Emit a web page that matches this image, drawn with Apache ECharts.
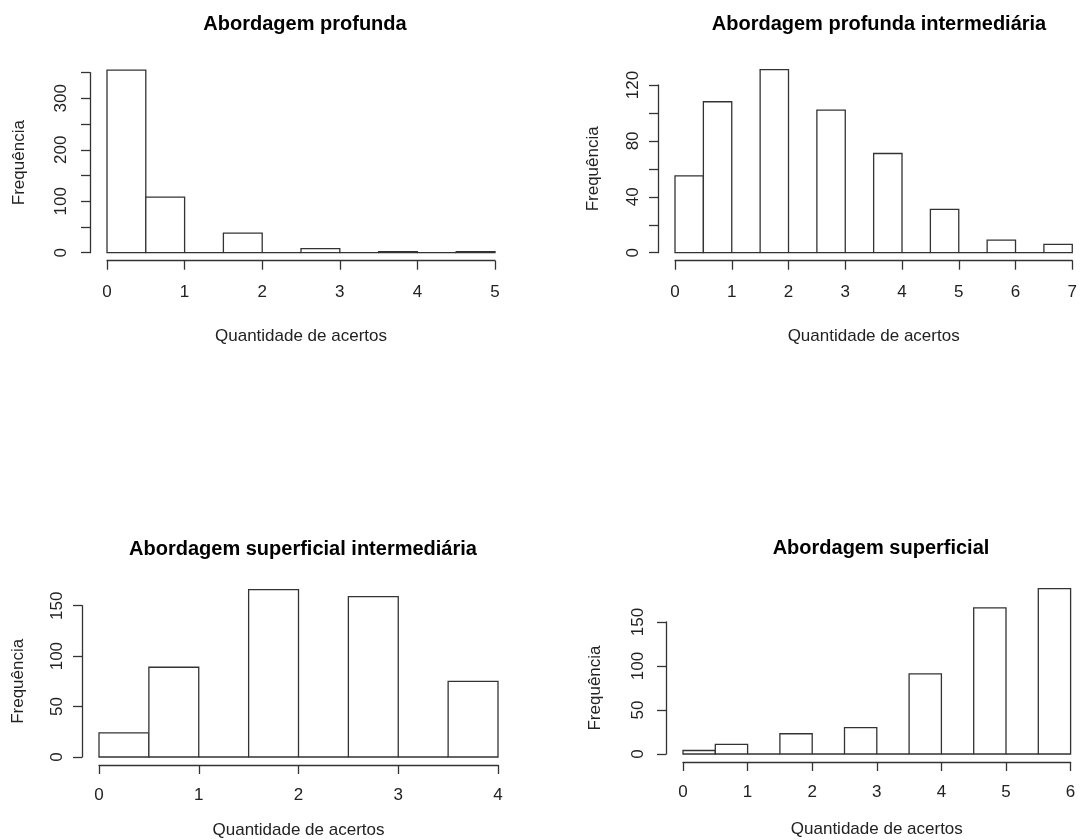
<!DOCTYPE html>
<html>
<head>
<meta charset="utf-8">
<title>Histogramas - Quantidade de acertos</title>
<script src="https://cdn.jsdelivr.net/npm/echarts@6/dist/echarts.min.js"></script>
<style>
    html, body { margin: 0; padding: 0; background: #fff; }
    #hist_grid { width: 1080px; height: 840px; }
</style>
</head>
<body>
<div id="hist_grid"></div>
<script>

// Chart data
// ------------------------------

var titles = [
    'Abordagem profunda',
    'Abordagem profunda intermediária',
    'Abordagem superficial intermediária',
    'Abordagem superficial'
];

// Bin edges (left, right) and frequencies for each histogram
var profundaLeft = [0, 0.5, 1, 1.5, 2, 2.5, 3, 3.5, 4, 4.5];
var profundaRight = [0.5, 1, 1.5, 2, 2.5, 3, 3.5, 4, 4.5, 5];
var profundaCounts = [355, 108, 0, 38, 0, 8, 0, 2, 0, 2];

var profIntLeft = [0, 0.5, 1, 1.5, 2, 2.5, 3, 3.5, 4, 4.5, 5, 5.5, 6, 6.5];
var profIntRight = [0.5, 1, 1.5, 2, 2.5, 3, 3.5, 4, 4.5, 5, 5.5, 6, 6.5, 7];
var profIntCounts = [55, 108, 0, 131, 0, 102, 0, 71, 0, 31, 0, 9, 0, 6];

var superIntLeft = [0, 0.5, 1, 1.5, 2, 2.5, 3, 3.5];
var superIntRight = [0.5, 1, 1.5, 2, 2.5, 3, 3.5, 4];
var superIntCounts = [24, 89, 0, 166, 0, 159, 0, 75];

var superLeft = [0, 0.5, 1, 1.5, 2, 2.5, 3, 3.5, 4, 4.5, 5, 5.5];
var superRight = [0.5, 1, 1.5, 2, 2.5, 3, 3.5, 4, 4.5, 5, 5.5, 6];
var superCounts = [4, 11, 0, 23, 0, 30, 0, 91, 0, 166, 0, 188];

// Axis ranges: x max, y max, y tick step, y label step
var xMax = [5, 7, 4, 6];
var yMax = [350, 120, 150, 150];
var yStep = [50, 20, 50, 50];
var yLabelStep = [100, 40, 50, 50];

var xName = 'Quantidade de acertos';
var yName = 'Frequência';


// Setup module
// ------------------------------

var HistogramGrid = function() {

    var _zip = function(left, right, counts) {
        return left.map(function(l, i) {
            return [l, right[i], counts[i]];
        });
    };

    var _renderBin = function(params, api) {
        var top = api.coord([api.value(0), api.value(2)]);
        var bottom = api.coord([api.value(1), 0]);
        return {
            type: 'rect',
            shape: {
                x: top[0],
                y: top[1],
                width: bottom[0] - top[0],
                height: bottom[1] - top[1]
            },
            style: {
                fill: '#fff',
                stroke: '#333',
                lineWidth: 1.3
            }
        };
    };

    var _histograms = function() {
        if (typeof echarts == 'undefined') {
            console.warn('Warning - echarts.min.js is not loaded.');
            return;
        }

        var el = document.getElementById('hist_grid');
        if (!el) return;

        var chart = echarts.init(el, null, { renderer: 'canvas' });

        var font = "'Liberation Sans', Arial, sans-serif";

        var bins = [
            _zip(profundaLeft, profundaRight, profundaCounts),
            _zip(profIntLeft, profIntRight, profIntCounts),
            _zip(superIntLeft, superIntRight, superIntCounts),
            _zip(superLeft, superRight, superCounts)
        ];

        // Plot regions
        var grids = [
            { left: 107, top: 72.6, width: 388, height: 180.1 },
            { left: 675, top: 85, width: 398, height: 167.7 },
            { left: 99, top: 605.7, width: 399, height: 152.3 },
            { left: 683, top: 622, width: 387.6, height: 132 }
        ];
        var titlePos = [
            { left: 300, top: 9 },
            { left: 874, top: 9 },
            { left: 298, top: 534 },
            { left: 876, top: 533 }
        ];
        var xNameGap = [67, 67, 57, 59];
        var xMargin = [23, 23, 22, 22];
        var yNameGap = [62, 56, 55, 62];
        var yMargin = [20, 16, 16, 19];

        var axisTick = { show: true, length: 9, lineStyle: { color: '#333', width: 1.3 } };

        var option = {
            animation: false,
            textStyle: { fontFamily: font },
            title: [],
            grid: [],
            xAxis: [],
            yAxis: [],
            series: []
        };

        for (var i = 0; i < 4; i++) {
            option.title.push({
                text: titles[i],
                left: titlePos[i].left,
                top: titlePos[i].top,
                textAlign: 'center',
                textStyle: {
                    fontFamily: font,
                    fontSize: 20,
                    fontWeight: 'bold',
                    color: '#000'
                }
            });

            option.grid.push(grids[i]);

            option.xAxis.push({
                gridIndex: i,
                type: 'value',
                min: 0,
                max: xMax[i],
                interval: 1,
                offset: 8,
                name: xName,
                nameLocation: 'middle',
                nameGap: xNameGap[i],
                nameTextStyle: { fontFamily: font, fontSize: 17, color: '#222' },
                axisLine: { show: true, onZero: false, lineStyle: { color: '#333', width: 1.3 } },
                axisTick: axisTick,
                splitLine: { show: false },
                axisLabel: {
                    fontFamily: font,
                    fontSize: 17,
                    color: '#222',
                    margin: xMargin[i],
                    showMinLabel: true,
                    showMaxLabel: true
                }
            });

            (function(step) {
                option.yAxis.push({
                    gridIndex: i,
                    type: 'value',
                    min: 0,
                    max: yMax[i],
                    interval: yStep[i],
                    offset: 17,
                    name: yName,
                    nameLocation: 'middle',
                    nameGap: yNameGap[i],
                    nameRotate: 90,
                    nameTextStyle: { fontFamily: font, fontSize: 17, color: '#222' },
                    axisLine: { show: true, onZero: false, lineStyle: { color: '#333', width: 1.3 } },
                    axisTick: axisTick,
                    splitLine: { show: false },
                    axisLabel: {
                        fontFamily: font,
                        fontSize: 17,
                        color: '#222',
                        rotate: 90,
                        margin: yMargin[i],
                        formatter: function(v) {
                            return v % step === 0 ? String(v) : '';
                        }
                    }
                });
            })(yLabelStep[i]);

            option.series.push({
                type: 'custom',
                xAxisIndex: i,
                yAxisIndex: i,
                clip: false,
                renderItem: _renderBin,
                encode: { x: [0, 1], y: 2 },
                data: bins[i]
            });
        }

        chart.setOption(option);

        window.addEventListener('resize', function() {
            chart.resize();
        });
    };

    return {
        init: function() {
            _histograms();
        }
    };
}();


// Initialize module
// ------------------------------

document.addEventListener('DOMContentLoaded', function() {
    HistogramGrid.init();
});
</script>
</body>
</html>
